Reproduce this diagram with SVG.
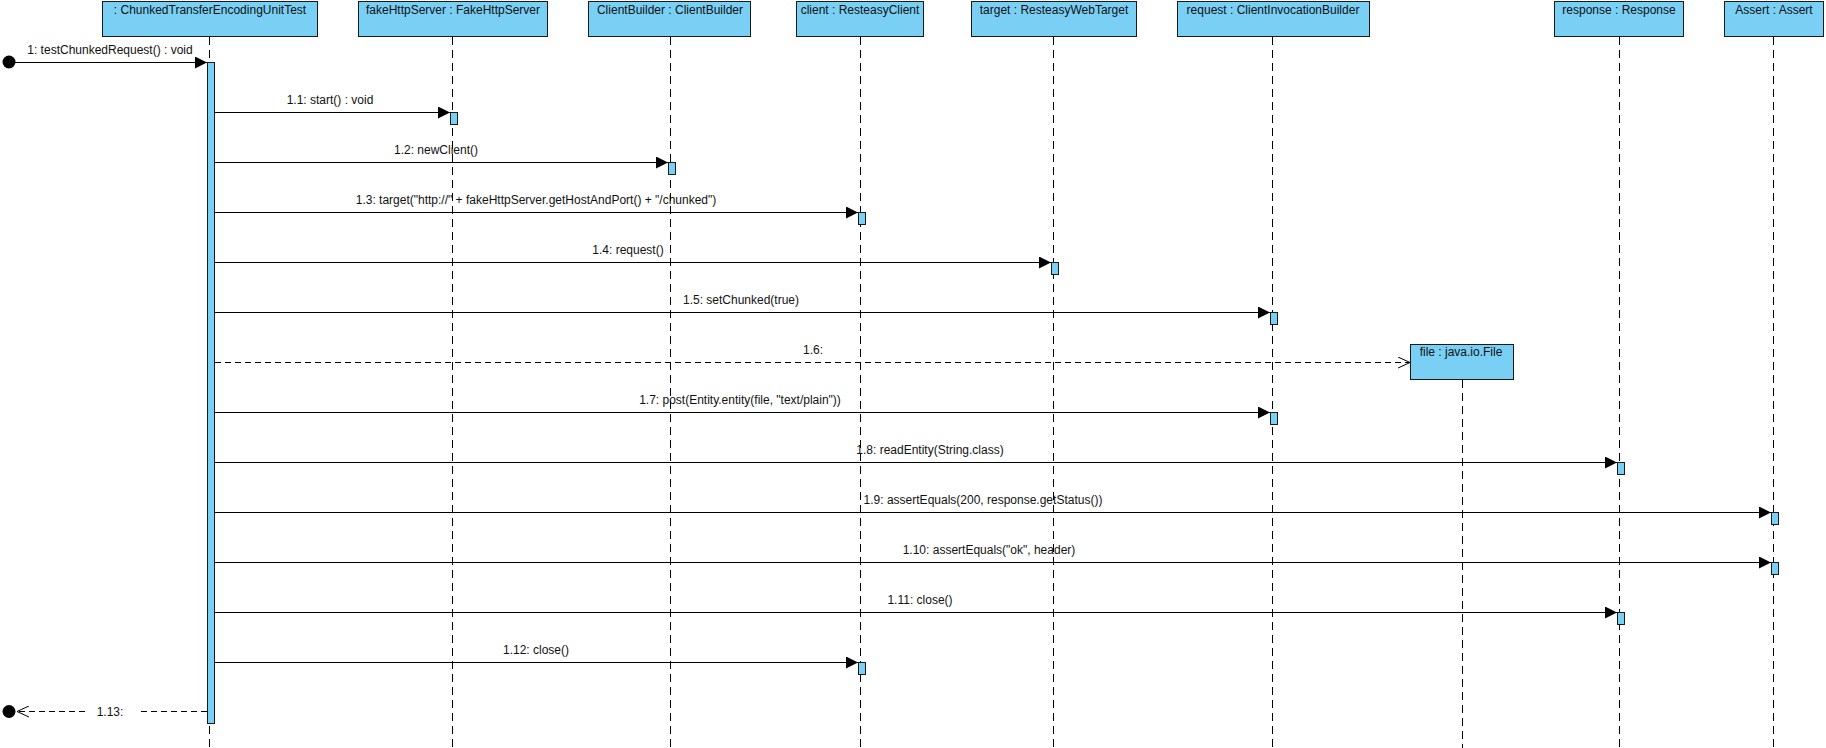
<svg xmlns="http://www.w3.org/2000/svg" width="1826" height="748" viewBox="0 0 1826 748">
<defs>
<style>
.box{fill:#7acff5;stroke:#1a1a1a;stroke-width:1}
.act{fill:#7acff5;stroke:#1a1a1a;stroke-width:1}
.life{stroke:#000;stroke-width:1;stroke-dasharray:8 5;fill:none}
.msg{stroke:#000;stroke-width:1;fill:none}
.ret{stroke:#000;stroke-width:1;fill:none;stroke-dasharray:6 4}
text{font-family:"Liberation Sans",Arial,sans-serif;font-size:12px;fill:#111}
.t{text-anchor:middle}
</style>
<marker id="fill" markerUnits="userSpaceOnUse" markerWidth="13" markerHeight="12" refX="12" refY="6" orient="auto">
<path d="M0,0 L12,6 L0,12 z" fill="#000"/>
</marker>
<marker id="open" markerUnits="userSpaceOnUse" markerWidth="14" markerHeight="12" refX="12.5" refY="6" orient="auto">
<path d="M0.5,0.5 L12.5,6 L0.5,11.5" fill="none" stroke="#000" stroke-width="1"/>
</marker>
</defs>
<rect width="1826" height="748" fill="#fff"/>

<g id="n1">
<rect class="box" x="102.5" y="1.5" width="215" height="35"/>
<text class="t" x="210" y="14">: ChunkedTransferEncodingUnitTest</text>
<line class="life" x1="209.5" y1="37" x2="209.5" y2="748"/>
<rect class="act" x="207.5" y="62.5" width="7" height="661"/>
</g>
<g id="n2">
<rect class="box" x="358.5" y="1.5" width="189" height="35"/>
<text class="t" x="453" y="14">fakeHttpServer : FakeHttpServer</text>
<line class="life" x1="452.5" y1="37" x2="452.5" y2="748"/>
<rect class="act" x="450.5" y="112.5" width="7" height="12"/>
</g>
<g id="n3">
<rect class="box" x="588.5" y="1.5" width="162" height="35"/>
<text class="t" x="670" y="14">ClientBuilder : ClientBuilder</text>
<line class="life" x1="670.5" y1="37" x2="670.5" y2="748"/>
<rect class="act" x="668.5" y="162.5" width="7" height="12"/>
</g>
<g id="n4">
<rect class="box" x="796.5" y="1.5" width="127" height="35"/>
<text class="t" x="860" y="14">client : ResteasyClient</text>
<line class="life" x1="860.5" y1="37" x2="860.5" y2="748"/>
<rect class="act" x="858.5" y="212.5" width="7" height="12"/>
<rect class="act" x="858.5" y="662.5" width="7" height="12"/>
</g>
<g id="n5">
<rect class="box" x="971.5" y="1.5" width="165" height="35"/>
<text class="t" x="1054" y="14">target : ResteasyWebTarget</text>
<line class="life" x1="1053.5" y1="37" x2="1053.5" y2="748"/>
<rect class="act" x="1051.5" y="262.5" width="7" height="12"/>
</g>
<g id="n6">
<rect class="box" x="1177.5" y="1.5" width="192" height="35"/>
<text class="t" x="1273" y="14">request : ClientInvocationBuilder</text>
<line class="life" x1="1272.5" y1="37" x2="1272.5" y2="748"/>
<rect class="act" x="1270.5" y="312.5" width="7" height="12"/>
<rect class="act" x="1270.5" y="412.5" width="7" height="12"/>
</g>
<g id="n7">
<rect class="box" x="1554.5" y="1.5" width="129" height="35"/>
<text class="t" x="1619" y="14">response : Response</text>
<line class="life" x1="1619.5" y1="37" x2="1619.5" y2="748"/>
<rect class="act" x="1617.5" y="462.5" width="7" height="12"/>
<rect class="act" x="1617.5" y="612.5" width="7" height="12"/>
</g>
<g id="n8">
<rect class="box" x="1724.5" y="1.5" width="99" height="35"/>
<text class="t" x="1774" y="14">Assert : Assert</text>
<line class="life" x1="1773.5" y1="37" x2="1773.5" y2="748"/>
<rect class="act" x="1771.5" y="512.5" width="7" height="12"/>
<rect class="act" x="1771.5" y="562.5" width="7" height="12"/>
</g>
<g id="nfile">
<rect class="box" x="1410.5" y="344.5" width="103" height="35"/>
<text class="t" x="1461" y="356">file : java.io.File</text>
<line class="life" x1="1462.5" y1="380" x2="1462.5" y2="748"/>
</g>
<g id="start">
<circle cx="9" cy="62" r="6.5" fill="#000"/>
</g>
<g id="end">
<circle cx="9" cy="711.5" r="6.5" fill="#000"/>
</g>

<g id="connectors">
<line class="msg" x1="15" y1="62.5" x2="207" y2="62.5" marker-end="url(#fill)"/>
<text class="t" x="110" y="54">1: testChunkedRequest() : void</text>

<line class="msg" x1="215" y1="112.5" x2="450" y2="112.5" marker-end="url(#fill)"/>
<text class="t" x="330" y="104">1.1: start() : void</text>

<line class="msg" x1="215" y1="162.5" x2="668" y2="162.5" marker-end="url(#fill)"/>
<text class="t" x="436" y="154">1.2: newClient()</text>

<line class="msg" x1="215" y1="212.5" x2="858" y2="212.5" marker-end="url(#fill)"/>
<text class="t" x="536" y="204">1.3: target("http://" + fakeHttpServer.getHostAndPort() + "/chunked")</text>

<line class="msg" x1="215" y1="262.5" x2="1051" y2="262.5" marker-end="url(#fill)"/>
<text class="t" x="628" y="254">1.4: request()</text>

<line class="msg" x1="215" y1="312.5" x2="1270" y2="312.5" marker-end="url(#fill)"/>
<text class="t" x="741" y="304">1.5: setChunked(true)</text>

<line class="ret" x1="215" y1="362.5" x2="1410" y2="362.5" marker-end="url(#open)"/>
<text class="t" x="813" y="354">1.6:</text>

<line class="msg" x1="215" y1="412.5" x2="1270" y2="412.5" marker-end="url(#fill)"/>
<text class="t" x="740" y="404">1.7: post(Entity.entity(file, "text/plain"))</text>

<line class="msg" x1="215" y1="462.5" x2="1617" y2="462.5" marker-end="url(#fill)"/>
<text class="t" x="930" y="454">1.8: readEntity(String.class)</text>

<line class="msg" x1="215" y1="512.5" x2="1771" y2="512.5" marker-end="url(#fill)"/>
<text class="t" x="983" y="504">1.9: assertEquals(200, response.getStatus())</text>

<line class="msg" x1="215" y1="562.5" x2="1771" y2="562.5" marker-end="url(#fill)"/>
<text class="t" x="989" y="554">1.10: assertEquals("ok", header)</text>

<line class="msg" x1="215" y1="612.5" x2="1617" y2="612.5" marker-end="url(#fill)"/>
<text class="t" x="920" y="604">1.11: close()</text>

<line class="msg" x1="215" y1="662.5" x2="858" y2="662.5" marker-end="url(#fill)"/>
<text class="t" x="536" y="654">1.12: close()</text>

<line class="ret" x1="207" y1="711.5" x2="137" y2="711.5"/>
<line class="ret" x1="85" y1="711.5" x2="17" y2="711.5" marker-end="url(#open)"/>
<text class="t" x="110" y="716">1.13:</text>
</g>
</svg>
